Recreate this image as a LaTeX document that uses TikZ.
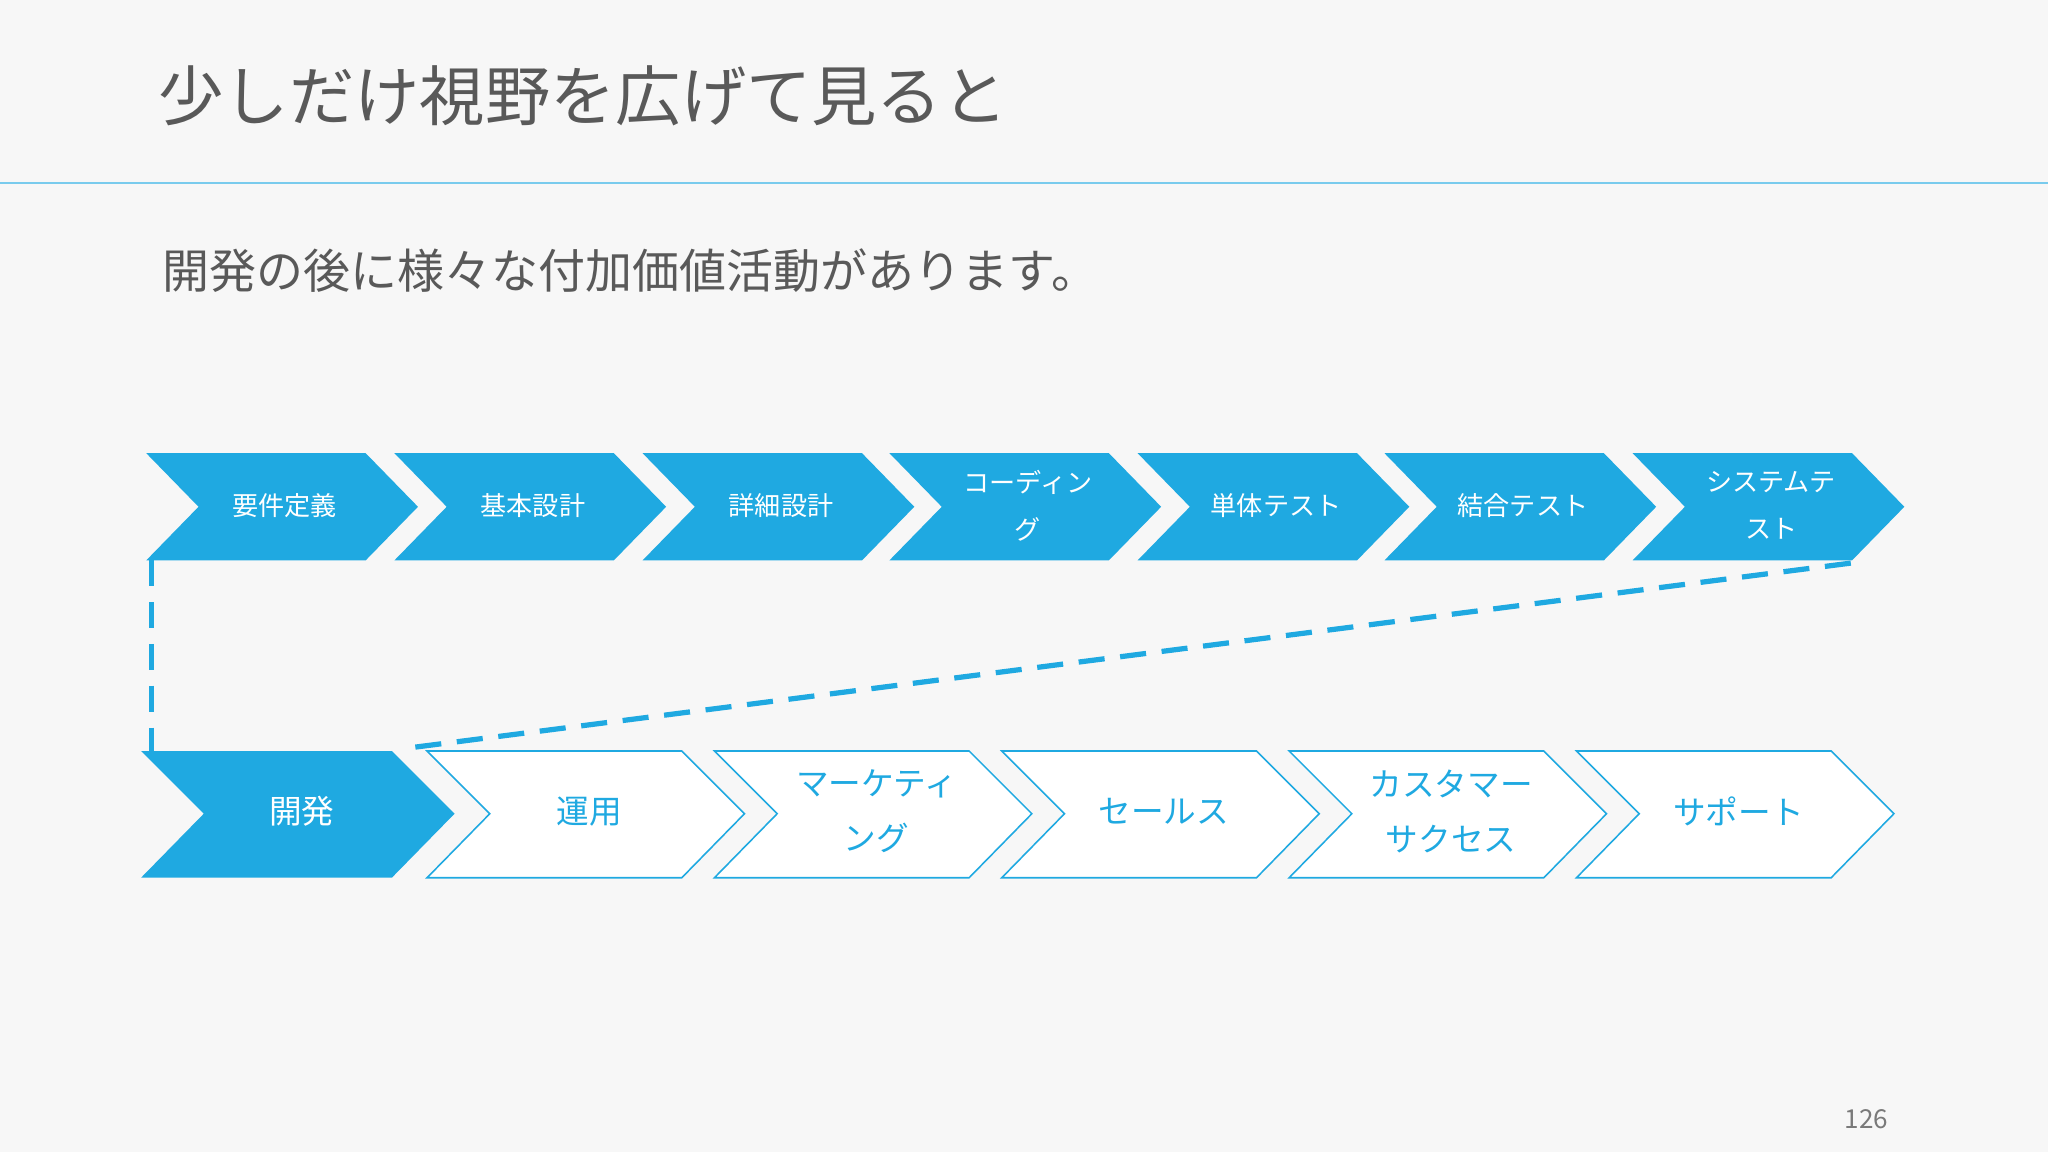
\documentclass[tikz,border=0pt]{standalone}
\usepackage{fontspec}
\setmainfont{Noto Sans CJK JP}
\definecolor{bl}{HTML}{1FA9E1}
\definecolor{tx}{HTML}{595959}
\definecolor{bg}{HTML}{F7F7F7}
\begin{document}
\begin{tikzpicture}[x=0.5pt,y=-0.5pt,
  topc/.style={fill=bl,draw=none},
  botc/.style={fill=white,draw=bl,line width=0.6pt},
  toptxt/.style={text=white,font=\fontsize{10}{18}\selectfont,align=center,text width=60pt},
  bottxt/.style={text=bl,font=\fontsize{12.5}{21}\selectfont,align=center,text width=70pt},
  dashline/.style={draw=bl,line width=2pt,dash pattern=on 10pt off 6pt}]
\useasboundingbox (0,0) rectangle (1568,882);
\fill[bg] (0,0) rectangle (1568,882);
\node[anchor=west,text=tx,font=\fontsize{25}{30}\selectfont,inner sep=0] (title) at (121,73) {少しだけ視野を広げて見ると};
\draw[bl!60,line width=0.6pt] (0,140) -- (1568,140);
\node[anchor=west,text=tx,font=\fontsize{18}{22}\selectfont,inner sep=0] (sub) at (124,207) {開発の後に様々な付加価値活動があります。};
% top row
\foreach \x/\t [count=\i] in {112/要件定義,302/基本設計,492/詳細設計,681/{コーディン\\グ},871/単体テスト,1060/結合テスト,1250/{システムテ\\スト}}{
  \fill[bl] (\x,347) -- ++(168,0) -- ++(40,41) -- ++(-40,41) -- ++(-168,0) -- ++(40,-41) -- cycle;
  \node[toptxt] (t\i) at (\x+106,387) {\t};
}
% bottom row
\fill[bl] (108,575) -- (300,575) -- (348,623) -- (300,672) -- (108,672) -- (156,623) -- cycle;
\node[text=white,font=\fontsize{12.5}{21}\selectfont] (b1) at (231,621) {開発};
\foreach \x/\t [count=\i from 2] in {327/運用,547/{マーケティ\\ング},767/セールス,987/{カスタマー\\サクセス},1207/サポート}{
  \draw[botc] (\x,575) -- ++(195,0) -- ++(48,48) -- ++(-48,49) -- ++(-195,0) -- ++(48,-49) -- cycle;
  \node[bottxt] (b\i) at (\x+124,621) {\t};
}
\coordinate (c1) at (116,429);
\coordinate (c2) at (116,580);
\coordinate (c3) at (318,572);
\coordinate (c4) at (1418,431);
\draw[dashline] (c1) -- (c2);
\draw[dashline] (c3) -- (c4);
\node[text=tx!80,font=\fontsize{10}{12}\selectfont] (pg) at (1429,857) {126};
\end{tikzpicture}
\end{document}
